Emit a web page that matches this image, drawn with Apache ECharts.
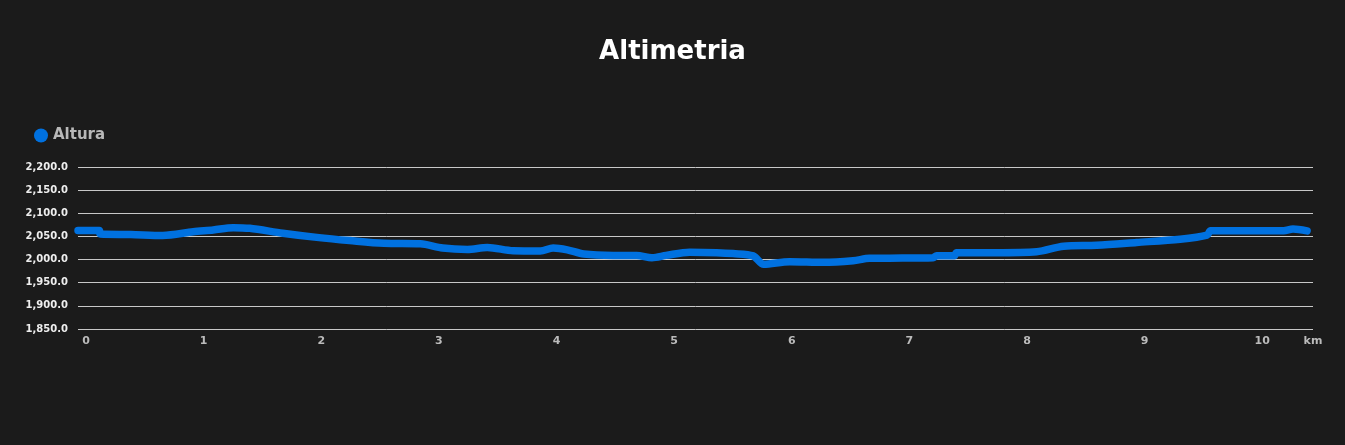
<!DOCTYPE html>
<html><head><meta charset="utf-8">
<script src="https://cdn.jsdelivr.net/npm/echarts@6/dist/echarts.min.js"></script>
<style>html,body{margin:0;padding:0;background:#1b1b1b;}#c{width:1345px;height:445px;}</style>
</head><body><div id="c"></div>
<script>
const titleText = 'Altimetria';
const seriesName = 'Altura';
const km = [0, 0.18, 0.19, 0.45, 0.72, 0.98, 1.15, 1.32, 1.46, 1.74, 2.03, 2.31, 2.6, 2.91, 3.1, 3.31, 3.48, 3.7, 3.93, 4.04, 4.16, 4.3, 4.55, 4.75, 4.88, 5.0, 5.2, 5.43, 5.57, 5.74, 5.83, 6.05, 6.34, 6.59, 6.73, 6.9, 7.27, 7.3, 7.45, 7.47, 7.8, 8.15, 8.38, 8.66, 9.0, 9.37, 9.6, 9.63, 10.0, 10.25, 10.33, 10.45];
const altura = [2063, 2063, 2055, 2054, 2052, 2060, 2064, 2069, 2067.5, 2057, 2048, 2041, 2035, 2034, 2025, 2022, 2026, 2019, 2018.5, 2025, 2021, 2012, 2009, 2009, 2004, 2009, 2016, 2015, 2013, 2008, 1990, 1995.5, 1994, 1997.6, 2002.7, 2003, 2004, 2008, 2008, 2015, 2015, 2017, 2029, 2031, 2037, 2044, 2053, 2062, 2062, 2062, 2066, 2062];
const yTicks = {min: 1850, max: 2200, interval: 50};
const xTicks = {min: 0, max: 10.5, interval: 1};
const xUnit = 'km';

const chart = echarts.init(document.getElementById('c'), null, {renderer: 'canvas'});
chart.setOption({
  backgroundColor: '#1b1b1b',
  animation: false,
  title: {
    text: titleText, left: 'center', top: 34,
    textStyle: {color: '#ffffff', fontFamily: 'DejaVu Sans', fontWeight: 700, fontSize: 26}
  },
  legend: {
    data: [seriesName], left: 29, top: 123, icon: 'circle', itemWidth: 14, itemHeight: 14, itemGap: 6,
    textStyle: {color: '#b8b8b8', fontFamily: 'DejaVu Sans', fontWeight: 700, fontSize: 15}
  },
  grid: {left: 78, right: 32, top: 167, bottom: 116, containLabel: false},
  xAxis: {
    type: 'value', min: xTicks.min, max: xTicks.max, interval: xTicks.interval,
    name: xUnit, nameLocation: 'end', nameGap: 0,
    nameTextStyle: {color: '#bbbbbb', fontFamily: 'DejaVu Sans', fontWeight: 700, fontSize: 11, align: 'center', verticalAlign: 'top', padding: [7, 0, 0, 0]},
    axisLine: {show: false}, axisTick: {show: false}, splitLine: {show: false},
    axisLabel: {color: '#bbbbbb', fontFamily: 'DejaVu Sans', fontWeight: 700, fontSize: 11, margin: 7, padding: [0, 0, 0, 16],
      showMaxLabel: false}
  },
  yAxis: {
    type: 'value', min: yTicks.min, max: yTicks.max, interval: yTicks.interval,
    axisLine: {show: false}, axisTick: {show: false},
    splitLine: {lineStyle: {color: '#c8c8c8', width: 1}},
    axisLabel: {color: '#eeeeee', fontFamily: 'DejaVu Sans', fontWeight: 700, fontSize: 10, margin: 10,
      formatter: v => v.toLocaleString('en-US', {minimumFractionDigits: 1, maximumFractionDigits: 1})}
  },
  series: [{
    name: seriesName, type: 'line', smooth: 0.3, showSymbol: false,
    data: km.map((k, i) => [k, altura[i]]),
    itemStyle: {color: '#0071e0'},
    lineStyle: {color: '#0071e0', width: 7.5, cap: 'round', join: 'round'}
  }]
});
</script></body></html>
